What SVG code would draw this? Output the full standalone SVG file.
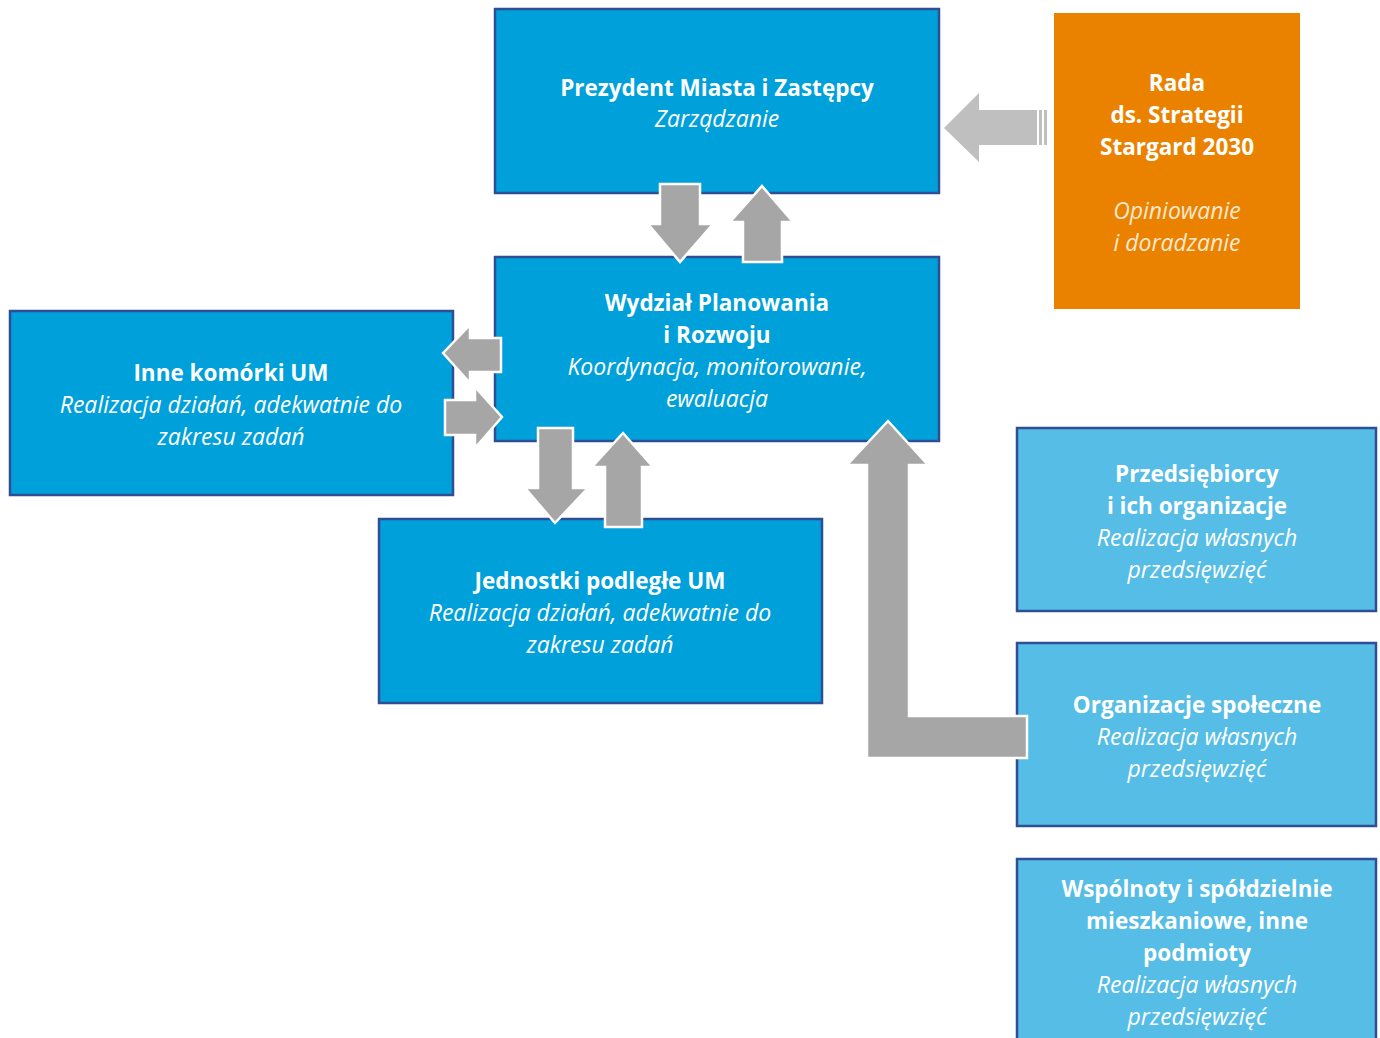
<svg xmlns="http://www.w3.org/2000/svg" width="1380" height="1038" viewBox="0 0 1380 1038">
<style>
.box{fill:#00a0da;stroke:#2f4f94;stroke-width:2.5}
.lbox{fill:#55bde6;stroke:#2f4f94;stroke-width:2.5}
.arr{fill:#a6a6a6;stroke:#ffffff;stroke-width:2.5;stroke-linejoin:miter}
text{font-family:"Open Sans","Noto Sans","DejaVu Sans",sans-serif;font-size:23px;fill:#ffffff;text-anchor:middle}
.b{font-weight:bold;font-size:22.5px}
.i{font-style:italic}
</style>
<rect width="1380" height="1038" fill="#ffffff"/>
<g id="prezydent">
<rect class="box" x="495" y="9" width="444" height="184"/>
<text class="b" x="717" y="96">Prezydent Miasta i Zastępcy</text>
<text class="i" x="717" y="127">Zarządzanie</text>
</g>
<g id="rada">
<rect x="1054" y="13" width="246" height="296" fill="#ea8200"/>
<text class="b" x="1177" y="91">Rada</text>
<text class="b" x="1177" y="123">ds. Strategii</text>
<text class="b" x="1177" y="155">Stargard 2030</text>
<text class="i" x="1177" y="219" style="fill:#fde8cf">Opiniowanie</text>
<text class="i" x="1177" y="251" style="fill:#fde8cf">i doradzanie</text>
</g>
<g id="wydzial">
<rect class="box" x="495" y="257" width="444" height="184"/>
<text class="b" x="717" y="311">Wydział Planowania</text>
<text class="b" x="717" y="343">i Rozwoju</text>
<text class="i" x="717" y="375">Koordynacja, monitorowanie,</text>
<text class="i" x="717" y="407">ewaluacja</text>
</g>
<g id="inne">
<rect class="box" x="10" y="311" width="443" height="184"/>
<text class="b" x="231" y="381">Inne komórki UM</text>
<text class="i" x="231" y="413">Realizacja działań, adekwatnie do</text>
<text class="i" x="231" y="445">zakresu zadań</text>
</g>
<g id="jednostki">
<rect class="box" x="379" y="519" width="443" height="184"/>
<text class="b" x="600" y="589">Jednostki podległe UM</text>
<text class="i" x="600" y="621">Realizacja działań, adekwatnie do</text>
<text class="i" x="600" y="653">zakresu zadań</text>
</g>
<g id="przedsiebiorcy">
<rect class="lbox" x="1017" y="428" width="359" height="183"/>
<text class="b" x="1197" y="482">Przedsiębiorcy</text>
<text class="b" x="1197" y="514">i ich organizacje</text>
<text class="i" x="1197" y="546">Realizacja własnych</text>
<text class="i" x="1197" y="578">przedsięwzięć</text>
</g>
<g id="organizacje">
<rect class="lbox" x="1017" y="643" width="359" height="183"/>
<text class="b" x="1197" y="713">Organizacje społeczne</text>
<text class="i" x="1197" y="745">Realizacja własnych</text>
<text class="i" x="1197" y="777">przedsięwzięć</text>
</g>
<g id="wspolnoty">
<rect class="lbox" x="1017" y="859" width="359" height="190"/>
<text class="b" x="1197" y="897">Wspólnoty i spółdzielnie</text>
<text class="b" x="1197" y="929">mieszkaniowe, inne</text>
<text class="b" x="1197" y="961">podmioty</text>
<text class="i" x="1197" y="993">Realizacja własnych</text>
<text class="i" x="1197" y="1025">przedsięwzięć</text>
</g>
<g id="connectors">
<polygon class="arr" points="660,184 700,184 700,224 713,224 680,262 648,224 660,224"/>
<polygon class="arr" points="762,186 793,222 782,222 782,262 743,262 743,222 730,222"/>
<g>
<polygon points="944,128 979,93 979,110 1037,110 1037,145 979,145 979,162" fill="#bfbfbf"/>
<rect x="1039" y="110" width="3" height="35" fill="#bfbfbf"/>
<rect x="1044" y="110" width="3" height="35" fill="#bfbfbf"/>
</g>
<polygon class="arr" points="443,353 470,325 470,338 501,338 501,372 470,372 470,383"/>
<polygon class="arr" points="445,400 475,400 475,387 502,417 475,448 475,435 445,435"/>
<polygon class="arr" points="538,428 573,428 573,488 588,488 555,523 525,488 538,488"/>
<polygon class="arr" points="623,433 653,467 642,467 642,527 605,527 605,467 592,467"/>
<polygon class="arr" points="888,421 928,465 909,465 909,716 1027,716 1027,758 867,758 867,465 847,465"/>
</g>
</svg>
